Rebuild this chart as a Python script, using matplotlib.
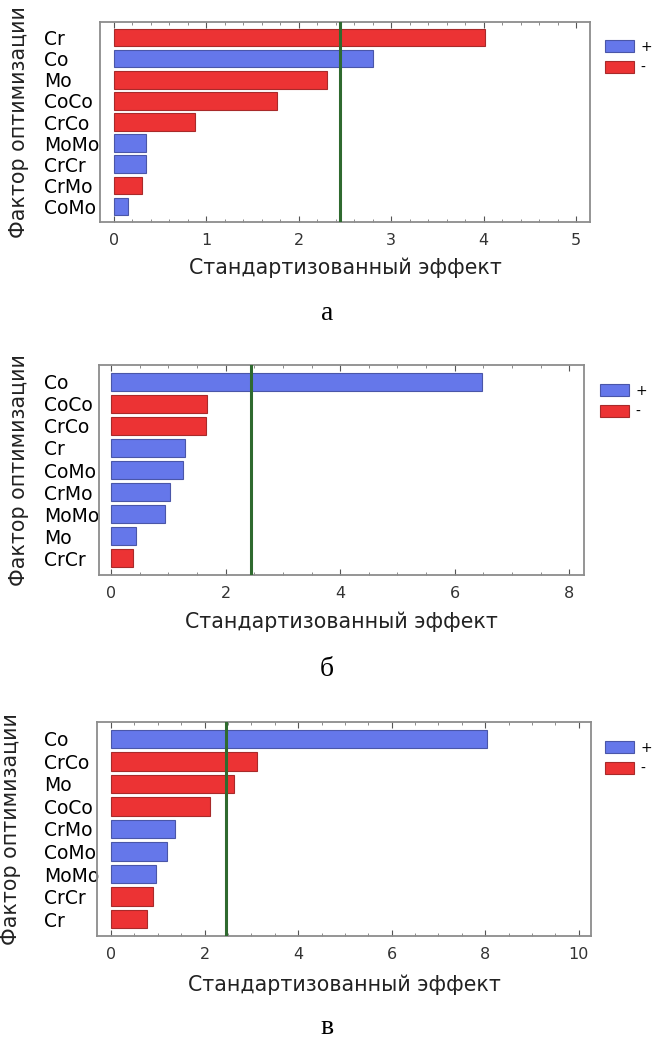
import matplotlib
matplotlib.use("Agg")
import matplotlib.pyplot as plt
from matplotlib.patches import Patch
from matplotlib.ticker import MultipleLocator

plt.rcParams['font.family'] = ['DejaVu Sans']

# ---- data ----
labels_a = ["Cr", "Co", "Mo", "CoCo", "CrCo", "MoMo", "CrCr", "CrMo", "CoMo"]
values_a = [4.01, 2.80, 2.31, 1.76, 0.875, 0.35, 0.35, 0.30, 0.15]
signs_a = ["-", "+", "-", "-", "-", "+", "+", "-", "+"]

labels_b = ["Co", "CoCo", "CrCo", "Cr", "CoMo", "CrMo", "MoMo", "Mo", "CrCr"]
values_b = [6.48, 1.68, 1.66, 1.29, 1.26, 1.03, 0.95, 0.43, 0.38]
signs_b = ["+", "-", "-", "+", "+", "+", "+", "+", "-"]

labels_c = ["Co", "CrCo", "Mo", "CoCo", "CrMo", "CoMo", "MoMo", "CrCr", "Cr"]
values_c = [8.03, 3.12, 2.63, 2.12, 1.36, 1.20, 0.96, 0.89, 0.77]
signs_c = ["+", "-", "-", "-", "+", "+", "+", "-", "-"]

critical = [2.45, 2.45, 2.455]
xmax_ticks = [5, 8, 10]
major_step = [1, 2, 2]
minor_step = [0.2, 0.5, 0.5]
captions = ["а", "б", "в"]
xlabel = "Стандартизованный эффект"
ylabel = "Фактор оптимизации"

# ---- style ----
BLUE = "#6577EA"
RED = "#EC3334"
BLUE_E = "#4a56a8"
RED_E = "#a82a2a"
GREEN = "#2f6a2f"
FRAME = "#8c8c8c"

W, H = 655, 1043
fig = plt.figure(figsize=(W / 100, H / 100), dpi=100)

# axes boxes in pixels: left, right, top, bottom
boxes = [(100, 590, 22, 222), (99, 584, 365, 575), (97, 591, 722, 936)]
xlims = [(-0.15, 5.15), (-0.21, 8.256), (-0.30, 10.26)]
ylab_x = [19, 19, 11]
xlab_y = [268, 622, 985]
cap_y = [313, 670, 1028]
leg_top = [40, 384, 741]
leg_left = [605, 600, 605]

panels = [(labels_a, values_a, signs_a), (labels_b, values_b, signs_b),
          (labels_c, values_c, signs_c)]

for i, (labs, vals, sgn) in enumerate(panels):
    l, r, t, b = boxes[i]
    ax = fig.add_axes([l / W, 1 - b / H, (r - l) / W, (b - t) / H])
    colors = [BLUE if s == "+" else RED for s in sgn]
    edges = [BLUE_E if s == "+" else RED_E for s in sgn]
    ypos = list(range(len(labs)))
    ax.barh(ypos, vals, height=0.82, color=colors, edgecolor=edges, linewidth=0.8, zorder=2)
    ax.axvline(critical[i], color=GREEN, lw=2.2, zorder=3)
    ax.set_xlim(*xlims[i])
    ax.set_ylim(8.75, -0.75)
    ax.set_yticks(ypos)
    ax.set_yticklabels(labs, fontsize=13.5, ha="left")
    ax.tick_params(axis="y", length=0, pad=(l - 44) * 0.72)
    ax.xaxis.set_major_locator(MultipleLocator(major_step[i]))
    ax.xaxis.set_minor_locator(MultipleLocator(minor_step[i]))
    ax.set_xticks([k for k in range(0, xmax_ticks[i] + 1, major_step[i])])
    ax.tick_params(axis="x", which="major", direction="in", length=4, width=0.8,
                   color="#555555", top=True, labelsize=11.5, labelcolor="#333333", pad=8)
    ax.tick_params(axis="x", which="minor", direction="in", length=2, width=0.6,
                   color="#777777", top=True)
    for sp in ax.spines.values():
        sp.set_color(FRAME)
        sp.set_linewidth(1.3)
    ax.set_xlabel(xlabel, fontsize=14.8, color="#222222")
    ax.xaxis.set_label_coords(0.5, -(xlab_y[i] - b) / (b - t), transform=ax.transAxes)
    ax.xaxis.label.set_va("center")
    ax.set_ylabel(ylabel, fontsize=14.8, color="#222222")
    ax.yaxis.set_label_coords((ylab_x[i] - l) / (r - l), 0.5)
    ax.yaxis.label.set_va("center")

    handles = [Patch(facecolor=BLUE, edgecolor=BLUE_E, linewidth=0.8, label="+"),
               Patch(facecolor=RED, edgecolor=RED_E, linewidth=0.8, label="-")]
    fig.legend(handles=handles, loc="upper left",
               bbox_to_anchor=(leg_left[i] / W, 1 - leg_top[i] / H),
               frameon=False, fontsize=10, handlelength=2.1, handleheight=0.95,
               labelspacing=0.5, handletextpad=0.45, borderpad=0, borderaxespad=0)

    fig.text(327 / W, 1 - cap_y[i] / H, captions[i], family="Liberation Serif",
             fontsize=20, ha="center", va="center")

fig.savefig("out.png", dpi=100)
